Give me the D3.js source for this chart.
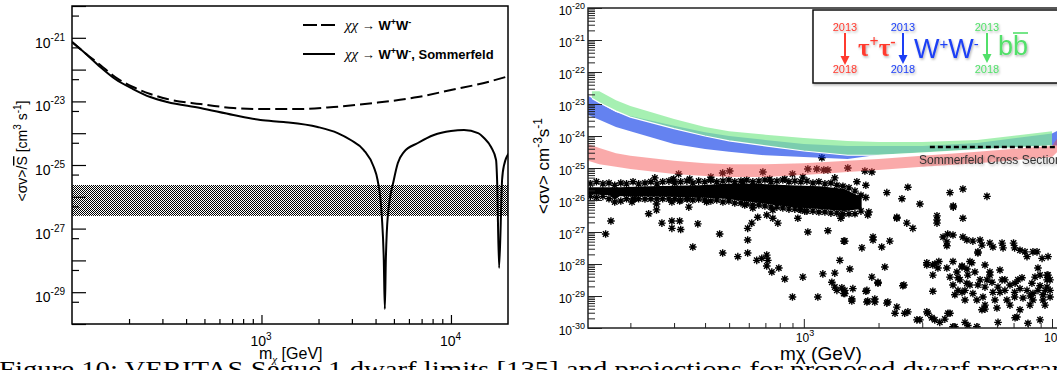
<!DOCTYPE html>
<html>
<head>
<meta charset="utf-8">
<script src="https://cdn.jsdelivr.net/npm/d3@7"></script>
<style>
body { margin: 0; background: #fff; }
svg { display: block; }
</style>
</head>
<body>
<div id="vis"></div>
<script>
// ---------- left panel: <sigma v>/S-bar vs m_chi ----------
const dashedMass  = [100,117,141,169,210,259,318,476,711,988,1308,1608,2404,3914,6690,10000,14950,20270];
const dashedSigma = [7.38e-22,3.33e-22,1.40e-22,5.85e-23,2.84e-23,1.71e-23,1.19e-23,8.28e-24,6.2e-24,5.77e-24,
                     5.77e-24,5.77e-24,6.67e-24,8.9e-24,1.37e-23,2.28e-23,3.8e-23,6.3e-23];

const sommMass  = [100,117,141,169,210,259,318,476,711,988,1308,1978,2523,2958,3465,3914,4100,4315,4421,4477,
                   4532,4642,4993,5244,5641,6690,8128,10000,11720,13900,14950,16280,17300,17520,17950,18610,19070,20270];
const sommSigma = [7.38e-22,3.33e-22,1.21e-22,5.06e-23,2.45e-23,1.37e-23,9.57e-24,6.2e-24,3.73e-24,2.6e-24,
                   2.25e-24,1.57e-24,1.01e-24,6.11e-25,2.96e-25,8.65e-26,3.37e-26,2.49e-27,1.03e-28,2.96e-30,
                   1.03e-28,2.49e-27,3.37e-26,1.16e-25,2.56e-25,4.92e-25,8.77e-25,1.17e-24,1.26e-24,1.01e-24,
                   7.06e-25,3.68e-25,1.44e-25,3.37e-26,5.77e-29,3.37e-26,1.0e-25,2.38e-25];

const hatchRange = [2.5e-27, 2.35e-26];   // thermal relic band
const leftYLabelExp = [-21, -23, -25, -27, -29];
const leftXLabelExp = [3, 4];

// ---------- right panel: projected limits + model scan ----------
const redMass = [135,150,175,200,300,400,500,700,1000,1500,2000,3000,5000,10000,11000];
const redHigh = [5.6e-25,4.2e-25,2.9e-25,2.4e-25,1.7e-25,1.4e-25,1.3e-25,1.3e-25,1.4e-25,1.7e-25,1.9e-25,2.4e-25,3.2e-25,4.9e-25,1.4e-24];
const redLow  = [1.7e-25,1.3e-25,1.1e-25,9.3e-26,6.5e-26,5.6e-26,5.2e-26,5.2e-26,6.0e-26,7.5e-26,8.7e-26,1.1e-25,1.4e-25,2.2e-25,4.5e-25];

const blueMass = [135,150,175,200,300,400,500,700,1000,1500,2000,3000,5000,10000,11000];
const blueHigh = [1.8e-23,1.1e-23,5.6e-24,4.2e-24,2.1e-24,1.3e-24,1.0e-24,7.5e-25,5.6e-25,4.9e-25,4.9e-25,4.9e-25,6.0e-25,1.2e-24,1.7e-24];
const blueLow  = [4.5e-24,3.2e-24,1.9e-24,1.4e-24,5.6e-25,3.9e-25,3.2e-25,2.5e-25,2.2e-25,1.9e-25,2.6e-25,3.1e-25,3.9e-25,5.2e-25,4.9e-25];

const greenMass = [140,150,175,200,300,400,500,700,1000,1500,2000,3000,5000,10000];
const greenHigh = [2.5e-23,2.5e-23,1.3e-23,8.7e-24,3.4e-24,1.9e-24,1.4e-24,1.1e-24,8.7e-25,7.0e-25,6.5e-25,6.5e-25,7.5e-25,1.4e-24];
const greenLow  = [1.5e-23,1.1e-23,6.0e-24,3.9e-24,1.7e-24,1.0e-24,7.0e-25,4.9e-25,3.4e-25,2.5e-25,2.5e-25,2.9e-25,3.7e-25,4.9e-25];

const sommerfeldMass  = [3220, 11000];
const sommerfeldSigma = [4.5e-25, 4.5e-25];

// dense part of the model scan: envelope of the solid core
const coreMass = [135,165,173,181,239,381,480,665,880,1160,1460,1710];
const coreHigh = [2.5e-26,2.5e-26,2.5e-26,2.5e-26,2.7e-26,2.9e-26,3.2e-26,3.2e-26,2.9e-26,2.7e-26,2.2e-26,1.2e-26];
const coreLow  = [1.5e-26,1.4e-26,1.0e-26,1.3e-26,1.3e-26,1.2e-26,1.1e-26,8.1e-27,6.0e-27,5.2e-27,4.5e-27,5.2e-27];

// edge points of the dense core
const edgeMass = [138,146,155,164,173,183,193,205,216,229,242,256,270,286,302,319,338,357,377,399,422,446,472,499,527,
                  558,589,623,659,697,737,779,823,871,920,973,1029,1088,1150,1216,1286,1359,1437,1520,1607,1699];
const edgeTop  = [3.2e-26,3.7e-26,3.2e-26,3.4e-26,2.9e-26,3.4e-26,3.2e-26,3.7e-26,3.2e-26,3.4e-26,3.7e-26,3.2e-26,3.7e-26,
                  3.9e-26,3.4e-26,3.7e-26,3.9e-26,3.4e-26,3.9e-26,3.7e-26,4.2e-26,3.7e-26,3.9e-26,4.2e-26,3.7e-26,3.9e-26,
                  4.2e-26,3.7e-26,3.9e-26,4.2e-26,3.7e-26,3.9e-26,4.2e-26,3.7e-26,3.9e-26,3.7e-26,3.9e-26,3.4e-26,3.7e-26,
                  3.2e-26,3.4e-26,2.9e-26,2.7e-26,2.4e-26,1.9e-26,1.4e-26];
const edgeBottom = [1.3e-26,1.2e-26,1.3e-26,1.1e-26,8.7e-27,9.3e-27,1.1e-26,1.07e-26,1.1e-26,1.07e-26,1.1e-26,1.07e-26,
                  1.1e-26,1.07e-26,1.1e-26,1.0e-26,1.07e-26,1.0e-26,1.07e-26,1.0e-26,9.3e-27,1.0e-26,8.7e-27,9.3e-27,
                  8.1e-27,8.1e-27,7.5e-27,7.0e-27,7.0e-27,6.5e-27,6.0e-27,6.0e-27,5.6e-27,5.2e-27,5.2e-27,4.9e-27,
                  4.5e-27,4.5e-27,4.2e-27,4.2e-27,3.9e-27,3.9e-27,3.7e-27,3.7e-27,3.7e-27,4.5e-27];

// individual model points [mass GeV, <sigma v>]
const scanPoints = [
  [251,4.9e-26],[296,4.2e-26],[299,4.5e-26],[313,6.5e-26],[347,4.5e-26],[422,5.2e-26],[422,4.2e-26],[471,7.0e-26],
  [503,8.1e-26],[568,3.7e-26],[684,7.5e-26],[729,4.5e-26],[838,4.5e-26],[900,6.5e-26],[991,5.2e-26],[1038,9.3e-26],
  [1128,9.3e-26],[1204,8.7e-26],[1250,8.7e-26],[1504,1.0e-25],[1762,8.1e-26],[1880,7.5e-26],[1182,2.1e-25],
  [1333,4.9e-26],[1636,3.7e-26],[1778,2.9e-26],[1778,1.2e-26],[2160,1.7e-26],[2626,2.5e-26],[2485,1.1e-26],
  [2936,7.5e-27],[3880,1.7e-26],[4375,2.2e-26],[5470,1.3e-26],[4000,6.5e-27],
  [167,2.2e-27],[159,8.7e-28],[203,8.7e-27],[208,1.1e-26],[237,3.7e-27],[255,4.9e-27],[255,7.5e-27],[268,1.9e-27],
  [294,2.2e-27],[294,1.3e-27],[316,2.2e-27],[319,1.2e-27],[294,8.7e-27],[316,9.3e-27],[340,1.1e-26],[344,6.0e-27],
  [374,1.8e-27],[357,3.4e-28],[406,8.7e-27],[458,8.7e-28],[471,2.2e-28],[542,1.7e-28],[594,2.2e-28],[594,5.6e-28],
  [594,1.3e-27],[617,1.9e-27],[578,7.0e-27],[623,5.6e-27],[652,2.9e-27],[709,3.4e-27],[750,4.9e-27],[750,2.7e-27],
  [786,1.9e-27],[646,1.3e-28],[677,1.5e-28],[709,1.9e-28],[716,1.3e-28],[709,8.7e-29],[743,5.6e-29],[793,7.5e-29],
  [838,3.4e-29],[991,3.9e-29],[900,9.3e-30],[946,2.7e-27],[963,5.2e-27],[1009,4.5e-27],[1038,1.0e-27],[1139,9.3e-30],
  [1193,4.9e-29],[1250,1.1e-27],[1410,2.7e-27],[1449,5.2e-28],[1397,1.3e-28],
  [1810,3.4e-27],[1423,3.4e-27],[2120,8.1e-29],[1533,7.0e-29],[1880,3.9e-29],[1990,2.5e-29],[1297,2.7e-29],
  [1333,1.9e-29],[1423,1.8e-29],[1463,1.2e-29],[1576,1.7e-29],[1795,1.5e-29],[1561,8.1e-30],[1795,6.5e-30],
  [1932,8.1e-30],[2160,6.0e-30],[2506,2.1e-29],[2370,4.5e-30],[2330,2.9e-30],[2626,3.2e-30],[2855,1.8e-30],
  [3130,3.2e-30],[3280,2.1e-30],[3530,1.5e-30],[3880,2.9e-30],[3990,1.1e-30],[4580,1.2e-30],[4980,1.1e-30],
  [5220,3.7e-30],[6000,4.2e-30],[6060,1.5e-30],[7220,2.2e-30],[8000,1.4e-30],[8950,1.8e-30],[5370,3.9e-30],
  [7100,2.1e-30],[4060,1.1e-30],[4460,1.5e-30],[3700,1.9e-30],[3370,1.8e-30],[3810,2.9e-30],[3160,2.9e-30],
  [2936,1.8e-30],[2550,2.9e-30],[2180,6.5e-30],[2530,2.2e-29],[1932,6.5e-30],[1990,2.7e-29],[1778,1.4e-29],
  [1810,7.0e-30],[1561,7.0e-30],[1449,1.2e-29],[1463,1.5e-29],[1359,1.5e-29],[1333,5.2e-29],[3440,3.2e-27],
  [3440,1.9e-27],[4375,2.7e-27],[2370,2.9e-27],[2600,1.9e-27],[2750,1.3e-27],[2220,5.2e-28],[2060,3.4e-28],
  [1900,7.0e-28],[1714,3.2e-28],[1463,5.2e-28],[1900,5.6e-28],[1828,4.2e-27],[2370,2.7e-27],[3130,9.3e-29],
  [3310,9.3e-29],[3310,1.4e-29],[3310,4.5e-29],[3440,2.4e-27],[3470,7.5e-29],[4000,6.0e-27],[5030,2.2e-28],
  [9550,4.5e-29],
  [3640,7.0e-28],[3800,8.7e-28],[3990,8.1e-28],[3770,4.9e-28],[3770,3.7e-28],[4375,7.0e-28],[4540,5.6e-28],
  [4800,5.2e-28],[5130,5.6e-28],[5220,3.9e-28],[5030,2.4e-28],[5620,4.5e-28],[5780,3.4e-28],[6290,4.5e-28],
  [6350,3.2e-28],[7000,4.5e-28],[7070,3.2e-28],[7430,2.7e-28],[7780,2.4e-28],[7930,1.7e-28],[8380,2.4e-28],
  [8700,2.4e-28],[9120,1.5e-28],[9640,1.7e-28],
  [3130,1.1e-28],[3370,1.0e-28],[3500,1.2e-28],[3990,1.2e-28],[3770,7.5e-29],[3880,3.9e-29],[4140,5.6e-29],
  [4340,8.1e-29],[4540,7.0e-29],[4580,4.5e-29],[4890,5.6e-29],[5130,3.2e-29],[4540,2.5e-29],[3990,2.2e-29],
  [4340,1.3e-29],[4800,1.2e-29],[5470,3.2e-29],[5730,2.7e-29],[6060,1.9e-29],[6460,1.5e-29],[6770,2.2e-29],
  [7070,1.3e-29],[7290,3.2e-29],[7930,1.5e-29],[8300,2.5e-29],[8380,1.2e-29],[8780,1.5e-29],[9200,1.1e-29],
  [9550,1.9e-29],[9640,4.5e-29],[9550,3.2e-29],[9820,9.3e-30],[9200,7.5e-30],[8380,7.5e-30],[7640,8.7e-30],
  [7070,9.3e-30],[6580,7.5e-30],[6290,3.2e-29],[5780,1.3e-29],[5270,9.3e-30],[4980,7.5e-30],[4460,7.5e-30],
  [4060,1.1e-29],[4260,3.2e-29],[4750,1.1e-28],[7430,1.7e-29],[8180,1.0e-29],[9400,1.5e-29],[6170,1.3e-29],
  [5370,1.9e-29],[4670,2.2e-29],[4180,1.5e-29],[5620,5.6e-29],[8950,4.5e-29],
  [4340,8.7e-29],[4670,1.2e-28],[5370,9.3e-29],[5620,4.5e-29],[5030,2.2e-29],[4460,1.5e-29],[4180,3.7e-29],
  [6170,6.5e-29],[6460,3.2e-29],[7100,2.5e-29],[7570,3.7e-29],[8540,3.9e-29],[8950,2.1e-29],[9820,1.5e-29],
  [9370,5.2e-30],[8150,5.2e-30],[7430,3.7e-30],[6770,5.2e-30],[5890,7.5e-30],[5370,5.2e-30],[9820,3.2e-29],
  [8780,7.5e-29]
];

const rightYLabelExp = [-20,-21,-22,-23,-24,-25,-26,-27,-28,-29,-30];
const rightXLabelExp = [3, 4];

const CAPTION = "Figure 10: VERITAS Segue 1 dwarf limits [135] and projections for proposed dwarf program";

// ---------- frame ----------
const FRAME_WIDTH = 1057, FRAME_HEIGHT = 370;
const L = {left: 72, right: 508, top: 6, bottom: 324};
const R = {left: 588, right: 1062, top: 8, bottom: 328};

const svg = d3.select("#vis").append("svg")
    .attr("width", FRAME_WIDTH).attr("height", FRAME_HEIGHT)
    .style("font-family", "'Liberation Sans', Arial, Helvetica, sans-serif");

const defs = svg.append("defs");
const pat = defs.append("pattern").attr("id", "hatch")
    .attr("width", 2).attr("height", 2).attr("patternUnits", "userSpaceOnUse");
pat.append("rect").attr("width", 2).attr("height", 2).attr("fill", "#fff");
pat.append("rect").attr("width", 1).attr("height", 1).attr("fill", "#000");
pat.append("rect").attr("x", 1).attr("y", 1).attr("width", 1).attr("height", 1).attr("fill", "#000");

defs.append("clipPath").attr("id", "clipL").append("rect")
    .attr("x", L.left).attr("y", L.top).attr("width", L.right - L.left).attr("height", L.bottom - L.top);
defs.append("clipPath").attr("id", "clipR").append("rect")
    .attr("x", R.left).attr("y", R.top).attr("width", R.right - R.left).attr("height", R.bottom - R.top);

const soft = defs.append("filter").attr("id", "soft")
    .attr("x", "-20%").attr("y", "-20%").attr("width", "140%").attr("height", "140%");
soft.append("feDropShadow").attr("dx", 1).attr("dy", 1.5).attr("stdDeviation", 1)
    .attr("flood-color", "#000").attr("flood-opacity", 0.3);

// superscript label helper: "10" with exponent
function powLabel(g, x, y, exp, size, supSize, anchor, rise) {
    const t = g.append("text").attr("x", x).attr("y", y)
        .attr("text-anchor", anchor).attr("font-size", size).attr("fill", "#000");
    t.append("tspan").text("10");
    t.append("tspan").attr("dy", -rise).attr("font-size", supSize).text(exp);
    return t;
}

// ================= LEFT PANEL =================
const xL = d3.scaleLog().domain([100, 20000]).range([L.left, L.right]);
const yL = d3.scaleLog().domain([1e-30, 1e-20]).range([L.bottom, L.top]);

const gL = svg.append("g");

// hatched band
gL.append("rect")
    .attr("x", xL(100)).attr("width", xL(20000) - xL(100))
    .attr("y", yL(hatchRange[1])).attr("height", yL(hatchRange[0]) - yL(hatchRange[1]))
    .attr("fill", "url(#hatch)");

const lineL = d3.line().x(d => xL(d[0])).y(d => yL(d[1])).curve(d3.curveMonotoneX);
const plotL = gL.append("g").attr("clip-path", "url(#clipL)");
plotL.append("path")
    .attr("d", lineL(dashedMass.map((m, i) => [m, dashedSigma[i]])))
    .attr("fill", "none").attr("stroke", "#000").attr("stroke-width", 2)
    .attr("stroke-dasharray", "12,5");
plotL.append("path")
    .attr("d", lineL(sommMass.map((m, i) => [m, sommSigma[i]])))
    .attr("fill", "none").attr("stroke", "#000").attr("stroke-width", 2);

// axes ticks (inside)
const decades = d3.range(-30, -19).map(e => Math.pow(10, e));
const fives = d3.range(-30, -20).map(e => 5 * Math.pow(10, e));
gL.append("g").attr("transform", `translate(${L.left},0)`)
    .call(d3.axisRight(yL).tickValues(decades).tickSize(14).tickFormat(""))
    .call(g => g.select(".domain").remove());
gL.append("g").attr("transform", `translate(${L.left},0)`)
    .call(d3.axisRight(yL).tickValues(fives).tickSize(7).tickFormat(""))
    .call(g => g.select(".domain").remove());

const xMinorL = [200,300,400,500,600,700,800,900,2000,3000,4000,5000,6000,7000,8000,9000];
gL.append("g").attr("transform", `translate(0,${L.bottom})`)
    .call(d3.axisTop(xL).tickValues([1000, 10000]).tickSize(9).tickFormat(""))
    .call(g => g.select(".domain").remove());
gL.append("g").attr("transform", `translate(0,${L.bottom})`)
    .call(d3.axisTop(xL).tickValues(xMinorL).tickSize(5).tickFormat(""))
    .call(g => g.select(".domain").remove());
gL.selectAll(".tick line").attr("stroke", "#000").attr("stroke-width", 1.2);

gL.append("rect")
    .attr("x", L.left).attr("y", L.top).attr("width", L.right - L.left).attr("height", L.bottom - L.top)
    .attr("fill", "none").attr("stroke", "#000").attr("stroke-width", 1.5);

leftYLabelExp.forEach(e => powLabel(gL, 65, yL(Math.pow(10, e)) + 10, String(e), 14, 10, "end", 7));
leftXLabelExp.forEach(e => powLabel(gL, xL(Math.pow(10, e)) - 11, 346, String(e), 14, 10, "start", 6));

// axis titles
const yTitleL = gL.append("text")
    .attr("transform", "translate(27,151) rotate(-90)")
    .attr("text-anchor", "middle").attr("font-size", 14);
yTitleL.append("tspan").text("<σv>/");
yTitleL.append("tspan").style("text-decoration", "overline").text("S");
yTitleL.append("tspan").text(" [cm");
yTitleL.append("tspan").attr("dy", -6).attr("font-size", 10).text("3");
yTitleL.append("tspan").attr("dy", 6).text(" s");
yTitleL.append("tspan").attr("dy", -6).attr("font-size", 10).text("-1");
yTitleL.append("tspan").attr("dy", 6).text("]");

const xTitleL = gL.append("text").attr("x", 259).attr("y", 359).attr("font-size", 16);
xTitleL.append("tspan").text("m");
xTitleL.append("tspan").attr("dy", 4).attr("font-size", 11).attr("font-family", "'Liberation Serif', serif")
    .attr("font-style", "italic").text("χ");
xTitleL.append("tspan").attr("dy", -4).text(" [GeV]");

// legend
const legL = gL.append("g");
legL.append("line").attr("x1", 303).attr("x2", 335).attr("y1", 25).attr("y2", 25)
    .attr("stroke", "#000").attr("stroke-width", 2).attr("stroke-dasharray", "14,4");
legL.append("line").attr("x1", 303).attr("x2", 335).attr("y1", 54).attr("y2", 54)
    .attr("stroke", "#000").attr("stroke-width", 2);
function legendText(y, extra) {
    const t = legL.append("text").attr("x", 345).attr("y", y).attr("font-size", 13).attr("font-weight", "bold");
    t.append("tspan").attr("font-family", "'Liberation Serif', serif").attr("font-style", "italic")
        .attr("font-weight", "normal").attr("font-size", 15).text("χχ");
    t.append("tspan").attr("font-weight", "normal").text(" → ");
    t.append("tspan").text("W");
    t.append("tspan").attr("dy", -5).attr("font-size", 9).text("+");
    t.append("tspan").attr("dy", 5).text("W");
    t.append("tspan").attr("dy", -5).attr("font-size", 9).text("-");
    if (extra) t.append("tspan").attr("dy", 5).text(extra);
}
legendText(30, null);
legendText(59, ", Sommerfeld");

// ================= RIGHT PANEL =================
const xR = d3.scaleLog().domain([135, 10000]).range([588, 1052]);
const yR = d3.scaleLog().domain([1e-30, 1e-20]).range([R.bottom, R.top]);

const gR = svg.append("g");
const plotR = gR.append("g").attr("clip-path", "url(#clipR)");

// asterisk marker
const ra = 3.8, rd = ra * 0.72;
const STAR = `M0,${-ra}L0,${ra}M${-ra},0L${ra},0M${-rd},${-rd}L${rd},${rd}M${-rd},${rd}L${rd},${-rd}`;

// dense core
plotR.append("path")
    .attr("d", d3.area().x(d => xR(d[0])).y0(d => yR(d[1])).y1(d => yR(d[2]))
        (coreMass.map((m, i) => [m, coreLow[i], coreHigh[i]])))
    .attr("fill", "#000");

const allPts = edgeMass.map((m, i) => [m, edgeTop[i]])
    .concat(edgeMass.map((m, i) => [m, edgeBottom[i]]))
    .concat(scanPoints);
plotR.selectAll(".star").data(allPts).enter().append("path")
    .attr("class", "star")
    .attr("transform", d => `translate(${xR(d[0])},${yR(d[1])})`)
    .attr("d", STAR)
    .attr("fill", "none").attr("stroke", "#000").attr("stroke-width", 1.4);

// projection bands
const bandArea = d3.area().x(d => xR(d[0])).y0(d => yR(d[1])).y1(d => yR(d[2]));
plotR.append("path")
    .attr("d", bandArea(blueMass.map((m, i) => [m, blueLow[i], blueHigh[i]])))
    .attr("fill", "rgb(17,63,232)").attr("fill-opacity", 0.65);
plotR.append("path")
    .attr("d", bandArea(greenMass.map((m, i) => [m, greenLow[i], greenHigh[i]])))
    .attr("fill", "rgb(131,234,148)").attr("fill-opacity", 0.72);
plotR.append("path")
    .attr("d", d3.line().x(d => xR(d[0])).y(d => yR(d[1]))(greenMass.map((m, i) => [m, greenLow[i]])))
    .attr("fill", "none").attr("stroke", "#fff").attr("stroke-width", 1.2);
plotR.append("path")
    .attr("d", bandArea(redMass.map((m, i) => [m, redLow[i], redHigh[i]])))
    .attr("fill", "rgb(244,67,67)").attr("fill-opacity", 0.45);

// Sommerfeld cross section
plotR.append("path")
    .attr("d", d3.line().x(d => xR(d[0])).y(d => yR(d[1]))(sommerfeldMass.map((m, i) => [m, sommerfeldSigma[i]])))
    .attr("stroke", "#000").attr("stroke-width", 2.5).attr("stroke-dasharray", "5,3").attr("fill", "none");
gR.append("text").attr("x", 919).attr("y", 164).attr("font-size", 12).attr("fill", "#333")
    .attr("filter", "url(#soft)").text("Sommerfeld Cross Section");

// ticks
const minorR = [];
d3.range(-30, -20).forEach(e => { for (let k = 2; k <= 9; k++) minorR.push(k * Math.pow(10, e)); });
gR.append("g").attr("transform", `translate(${R.left},0)`)
    .call(d3.axisRight(yR).tickValues(decades).tickSize(14).tickFormat(""))
    .call(g => g.select(".domain").remove());
gR.append("g").attr("transform", `translate(${R.left},0)`)
    .call(d3.axisRight(yR).tickValues(minorR).tickSize(7).tickFormat(""))
    .call(g => g.select(".domain").remove());
gR.append("g").attr("transform", `translate(0,${R.bottom})`)
    .call(d3.axisTop(xR).tickValues([1000, 10000]).tickSize(9).tickFormat(""))
    .call(g => g.select(".domain").remove());
gR.append("g").attr("transform", `translate(0,${R.bottom})`)
    .call(d3.axisTop(xR).tickValues(xMinorL).tickSize(5).tickFormat(""))
    .call(g => g.select(".domain").remove());
gR.selectAll(".tick line").attr("stroke", "#222").attr("stroke-width", 1);

gR.append("rect")
    .attr("x", R.left).attr("y", R.top).attr("width", R.right - R.left).attr("height", R.bottom - R.top)
    .attr("fill", "none").attr("stroke", "#222").attr("stroke-width", 1.5);

rightYLabelExp.forEach(e => powLabel(gR, 585, yR(Math.pow(10, e)) + 7, String(e), 12, 9, "end", 6));
rightXLabelExp.forEach(e => powLabel(gR, xR(Math.pow(10, e)) - 8, 342, String(e), 12, 9, "start", 6));

const yTitleR = gR.append("text")
    .attr("transform", "translate(549,166) rotate(-90)")
    .attr("text-anchor", "middle").attr("font-size", 17);
yTitleR.append("tspan").text("<σv> cm");
yTitleR.append("tspan").attr("dy", -7).attr("font-size", 12).text("-3");
yTitleR.append("tspan").attr("dy", 7).text("s");
yTitleR.append("tspan").attr("dy", -7).attr("font-size", 12).text("-1");

gR.append("text").attr("x", 780).attr("y", 360).attr("font-size", 19).text("mχ (GeV)");

// legend box
const legR = gR.append("g");
legR.append("rect").attr("x", 813).attr("y", 10).attr("width", 260).attr("height", 73)
    .attr("fill", "#fff").attr("stroke", "#111").attr("stroke-width", 1.5).attr("filter", "url(#soft)");

function yearArrow(x, yTop, yBot, color) {
    legR.append("text").attr("x", x).attr("y", 31).attr("text-anchor", "middle")
        .attr("font-size", 11).attr("fill", color).attr("filter", "url(#soft)").text("2013");
    legR.append("text").attr("x", x).attr("y", 73).attr("text-anchor", "middle")
        .attr("font-size", 11).attr("fill", color).attr("filter", "url(#soft)").text("2018");
    legR.append("line").attr("x1", x).attr("x2", x).attr("y1", yTop).attr("y2", yBot - 6)
        .attr("stroke", color).attr("stroke-width", 2);
    legR.append("path").attr("d", `M${x - 4.5},${yBot - 9}L${x + 4.5},${yBot - 9}L${x},${yBot}Z`)
        .attr("fill", color);
}
const RED = "#ff3b2f", BLUE = "#1d3ff5", GREEN = "#52e06a";
yearArrow(845, 33, 65, RED);
yearArrow(903, 33, 64, BLUE);
yearArrow(987, 33, 63, GREEN);

const tau = legR.append("text").attr("x", 858).attr("y", 56).attr("font-size", 25)
    .attr("font-family", "'Liberation Serif', serif").attr("font-weight", "bold")
    .attr("fill", RED).attr("filter", "url(#soft)");
tau.append("tspan").text("τ");
tau.append("tspan").attr("dy", -9).attr("font-size", 16).text("+");
tau.append("tspan").attr("dy", 9).text("τ");
tau.append("tspan").attr("dy", -9).attr("font-size", 16).text("-");

const ww = legR.append("text").attr("x", 914).attr("y", 58).attr("font-size", 27)
    .attr("fill", BLUE).attr("filter", "url(#soft)");
ww.append("tspan").text("W");
ww.append("tspan").attr("dy", -9).attr("font-size", 15).text("+");
ww.append("tspan").attr("dy", 9).text("W");
ww.append("tspan").attr("dy", -9).attr("font-size", 15).text("-");

legR.append("text").attr("x", 998).attr("y", 55).attr("font-size", 27)
    .attr("fill", GREEN).attr("filter", "url(#soft)").text("bb");
legR.append("line").attr("x1", 1013).attr("x2", 1028).attr("y1", 33).attr("y2", 33)
    .attr("stroke", GREEN).attr("stroke-width", 1.6);

// ================= CAPTION =================
svg.append("text").attr("x", -1).attr("y", 377)
    .attr("font-family", "'Liberation Serif', 'Times New Roman', serif").attr("font-size", 24)
    .attr("textLength", 1075).attr("lengthAdjust", "spacingAndGlyphs")
    .text(CAPTION);
</script>
</body>
</html>
